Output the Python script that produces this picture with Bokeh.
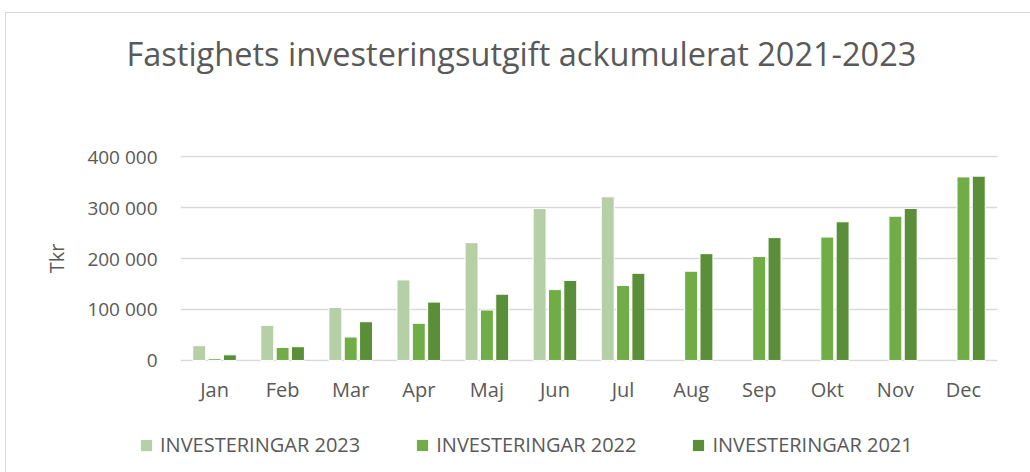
import numpy as np
from bokeh.plotting import figure
from bokeh.models import ColumnDataSource, FactorRange, Range1d, Legend, LegendItem, Title
from bokeh.transform import dodge
from bokeh.embed import file_html
from bokeh.resources import INLINE

# ---- data ----
months = ["Jan", "Feb", "Mar", "Apr", "Maj", "Jun", "Jul", "Aug", "Sep", "Okt", "Nov", "Dec"]
inv_2023 = [29000, 69000, 104000, 158000, 231000, 298000, 321000, np.nan, np.nan, np.nan, np.nan, np.nan]
inv_2022 = [3500, 25500, 46000, 73000, 99000, 139000, 147000, 175000, 204000, 242000, 283000, 360000]
inv_2021 = [11000, 27000, 76000, 114500, 130000, 157000, 171000, 209500, 241000, 272000, 298000, 361500]
series_names = ["INVESTERINGAR 2023", "INVESTERINGAR 2022", "INVESTERINGAR 2021"]
y_ticks = [0, 100000, 200000, 300000, 400000]
y_tick_labels = ["0", "100 000", "200 000", "300 000", "400 000"]
title_text = "Fastighets investeringsutgift ackumulerat 2021-2023"
y_label = "Tkr"

colors = ["#b5d0a6", "#70ad47", "#5b8e38"]
text_color = "#595959"
grid_color = "#d9d9d9"
FONT = "Open Sans"

source = ColumnDataSource(data=dict(
    month=months,
    v2023=np.array(inv_2023, dtype=float),
    v2022=np.array(inv_2022, dtype=float),
    v2021=np.array(inv_2021, dtype=float),
))

p = figure(
    x_range=FactorRange(*months, range_padding=0),
    y_range=Range1d(-2000, 402000),
    frame_width=817, frame_height=206,
    min_border_left=174, min_border_right=33,
    min_border_top=142, min_border_bottom=60,
    output_backend="svg", toolbar_location=None,
    background_fill_color="white", border_fill_color="white",
    styles={"margin-left": "5px", "margin-top": "12px",
            "border-left": "1px solid #d9d9d9", "border-top": "1px solid #d9d9d9"},
)
p.outline_line_color = None

offsets = [-0.225, 0.0, 0.225]
keys = ["v2023", "v2022", "v2021"]
for k, off, c in zip(keys, offsets, colors):
    p.vbar(x=dodge("month", off, range=p.x_range), top=k, width=0.19,
           source=source, fill_color=c, line_color="white", line_width=1)

# axes
p.xaxis.axis_line_color = None
p.xaxis.major_tick_line_color = None
p.xaxis.major_tick_out = 0
p.xaxis.minor_tick_line_color = None
p.xaxis.major_label_text_font = FONT
p.xaxis.major_label_text_font_size = "20px"
p.xaxis.major_label_text_color = text_color
p.xaxis.major_label_standoff = 14
p.xgrid.grid_line_color = None

p.yaxis.axis_line_color = None
p.yaxis.major_tick_line_color = None
p.yaxis.major_tick_out = 0
p.yaxis.minor_tick_line_color = None
p.yaxis.ticker = y_ticks
p.yaxis.major_label_overrides = {t: l for t, l in zip(y_ticks, y_tick_labels)}
p.yaxis.major_label_text_font = FONT
p.yaxis.major_label_text_font_size = "19px"
p.yaxis.major_label_text_color = text_color
p.yaxis.major_label_standoff = 23
p.yaxis.axis_label = y_label
p.yaxis.axis_label_text_font = FONT
p.yaxis.axis_label_text_font_size = "20px"
p.yaxis.axis_label_text_font_style = "normal"
p.yaxis.axis_label_text_color = text_color
p.yaxis.axis_label_standoff = 14
p.ygrid.grid_line_color = grid_color
p.ygrid.grid_line_width = 1.3
p.ygrid.ticker = y_ticks

# invisible spacer between frame and title
p.add_layout(Title(text=" ", text_font_size="1px", standoff=72), "above")

# title
p.add_layout(Title(text=title_text, align="left", offset=-54, vertical_align="bottom",
                   standoff=10, text_font=FONT, text_font_size="32.5px",
                   text_font_style="normal", text_color=text_color), "above")

# legend strip (separate small canvas under the chart)
leg = figure(width=1024, height=51, x_range=Range1d(0, 1), y_range=Range1d(0, 1),
             min_border=0, output_backend="svg", toolbar_location=None,
             background_fill_color="white", border_fill_color="white",
             styles={"margin-left": "5px", "border-left": "1px solid #d9d9d9"})
leg.axis.visible = False
leg.grid.visible = False
leg.outline_line_color = None
proxy = ColumnDataSource(data=dict(x=[np.nan], top=[np.nan]))
leg_renderers = [leg.vbar(x="x", top="top", width=0.1, source=proxy, fill_color=c, line_color=None)
                 for c in colors]
legend = Legend(items=[LegendItem(label=n, renderers=[r]) for n, r in zip(series_names, leg_renderers)],
                orientation="horizontal", location=(133, 14),
                glyph_width=14, glyph_height=14, label_standoff=7, spacing=55,
                padding=0, margin=0, border_line_color=None, background_fill_alpha=0,
                label_text_font=FONT, label_text_font_size="20px", label_text_color=text_color)
leg.add_layout(legend, "center")

open("out.html", "w").write(file_html([p, leg], INLINE))
